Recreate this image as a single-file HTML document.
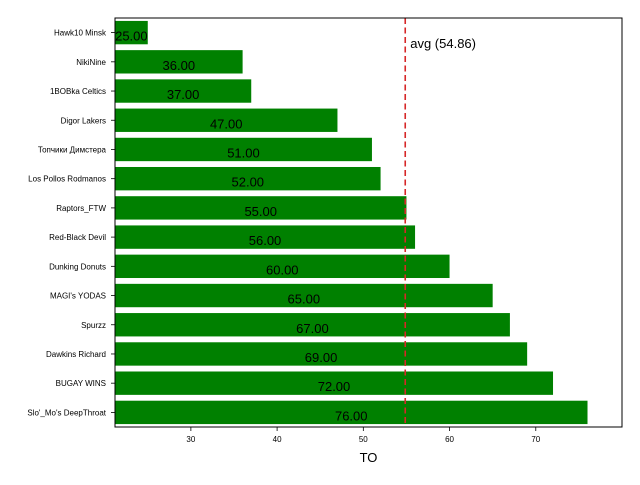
<!DOCTYPE html>
<html><head><meta charset="utf-8"><style>
body{margin:0;background:#fff;}
svg{font-family:"Liberation Sans","DejaVu Sans",sans-serif;}
</style></head><body>
<svg id="chart" width="640" height="480"></svg>
<script>
const teams=["Hawk10 Minsk","NikiNine","1BOBka Celtics","Digor Lakers","Топчики Димстера","Los Pollos Rodmanos","Raptors_FTW","Red-Black Devil","Dunking Donuts","MAGI's YODAS","Spurzz","Dawkins Richard","BUGAY WINS","Slo'_Mo's DeepThroat"];
const values=[25,36,37,47,51,52,55,56,60,65,67,69,72,76];
const xTicks=[30,40,50,60,70];
const avgValue=54.86;
const NS="http://www.w3.org/2000/svg";
const svg=document.getElementById('chart');
const L=115,R=622,T=18,B=427,xmin=21.2,xmax=80;
const x=v=>L+(v-xmin)/(xmax-xmin)*(R-L);
const step=(B-T)/values.length;
const yc=i=>T+step*(i+0.5);
function mk(t,a){const e=document.createElementNS(NS,t);for(const k in a)e.setAttribute(k,a[k]);svg.appendChild(e);return e;}
values.forEach((v,i)=>{
 const r=mk('rect',{x:L,y:yc(i)-step*0.4,width:x(v)-L,height:step*0.8,fill:'#008000'});
 
 
 const t=mk('text',{x:(L+x(v))/2,y:yc(i)+8,'font-size':13,'text-anchor':'middle',fill:'#000'});
 t.textContent=v.toFixed(2);
 
 
 const yl=mk('text',{x:L-9,y:yc(i)+3,'font-size':8,'text-anchor':'end'});
 yl.textContent=teams[i];
 
 
 mk('line',{x1:L-4,x2:L,y1:yc(i),y2:yc(i),stroke:'#000','stroke-width':0.8});
});
xTicks.forEach(v=>{
 mk('line',{x1:x(v),x2:x(v),y1:B,y2:B+4,stroke:'#000','stroke-width':0.8});
 const t=mk('text',{x:x(v),y:B+15,'font-size':8,'text-anchor':'middle'});
 t.textContent=v;
 
 
});
const al=mk('line',{x1:x(avgValue),x2:x(avgValue),y1:T,y2:B,stroke:'#d62728','stroke-width':1.6,'stroke-dasharray':'6,3.5'});


const at=mk('text',{x:x(avgValue)+5,y:48,'font-size':13});
at.textContent='avg ('+avgValue.toFixed(2)+')';


const fr=mk('rect',{x:L,y:T,width:R-L,height:B-T,fill:'none',stroke:'#000','stroke-width':1});


const xl=mk('text',{x:(L+R)/2,y:462,'font-size':13,'text-anchor':'middle'});
xl.textContent='TO';


</script>
</body></html>
